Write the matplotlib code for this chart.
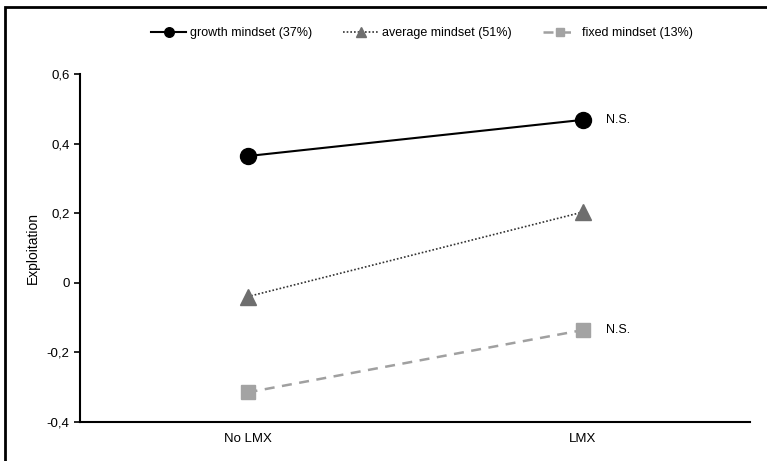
import matplotlib.pyplot as plt
from matplotlib.patches import Rectangle

plt.rcParams['font.family'] = ['Liberation Sans', 'DejaVu Sans']

# ---- data ----
conditions = ['No LMX', 'LMX']
growth = [0.364, 0.468]
average = [-0.04, 0.203]
fixed = [-0.315, -0.136]
labels = ['growth mindset (37%)', 'average mindset (51%)', 'fixed mindset (13%)']
yticks = [-0.4, -0.2, 0, 0.2, 0.4, 0.6]
ytick_labels = ['-0,4', '-0,2', '0', '0,2', '0,4', '0,6']

x = [0.5, 1.5]

fig = plt.figure(figsize=(7.67, 4.61), dpi=100)
ax = fig.add_axes([0.1043, 0.0846, 0.8737, 0.755])

ax.plot(x, growth, color='black', lw=1.5, marker='o', ms=11.5, label=labels[0])
ax.plot(x, average, color='#333333', lw=1.2, ls=(0, (1, 1.2)), marker='^',
        ms=11.5, mfc='#6e6e6e', mec='#6e6e6e', label=labels[1])
ax.plot(x, fixed, color='#a0a0a0', lw=1.8, ls=(0, (4, 3)), marker='s',
        ms=10, mfc='#a3a3a3', mec='#a3a3a3', label=labels[2])

# significance notes
ax.text(x[1] + 0.07, growth[1], 'N.S.', va='center', ha='left', fontsize=9)
ax.text(x[1] + 0.07, fixed[1], 'N.S.', va='center', ha='left', fontsize=9)

ax.set_xlim(0, 2)
ax.set_ylim(-0.4, 0.6)
ax.set_xticks(x)
ax.set_xticklabels(conditions, fontsize=9.5)
ax.tick_params(axis='x', length=0, pad=8)
ax.set_yticks(yticks)
ax.set_yticklabels(ytick_labels, fontsize=9.5)
ax.tick_params(axis='y', length=4, width=1.2, direction='out')
ax.set_ylabel('Exploitation', fontsize=10, labelpad=5)

for side in ['top', 'right']:
    ax.spines[side].set_visible(False)
for side in ['left', 'bottom']:
    ax.spines[side].set_linewidth(1.5)

fig.legend(loc='center', bbox_to_anchor=(0.55, 0.928), ncol=3, frameon=False,
           fontsize=9, handlelength=2.8, columnspacing=2.5, handletextpad=0.3,
           markerscale=0.6)

# frame around figure (only left and top edges visible in the crop)
fig.patches.append(Rectangle((0.007, -0.1), 1.2, 1.085, transform=fig.transFigure,
                             fill=False, lw=2, ec='black'))

fig.savefig('out.png', dpi=100)
